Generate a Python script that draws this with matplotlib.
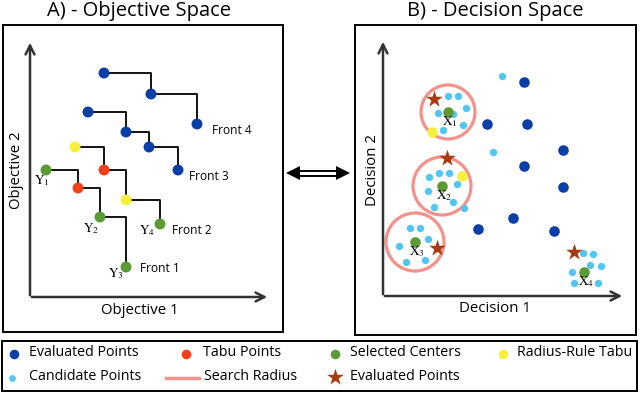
import matplotlib.pyplot as plt
from matplotlib.patches import Circle, Rectangle

plt.rcParams['font.family'] = ['Open Sans', 'DejaVu Sans']
plt.rcParams['mathtext.fontset'] = 'stix'

# colours
DARK_BLUE = '#0b3fa8'
RED = '#f2401c'
GREEN = '#5c9a34'
YELLOW = '#f6f03c'
LIGHT_BLUE = '#52c6f2'
SALMON = '#f4918a'
BROWN = '#a83c10'

# ---- A) objective space: fronts (pixel-space coordinates of the diagram)
front1_x = [46, 78, 100, 126]
front1_y = [170, 188, 217, 267]
front1_c = [GREEN, RED, GREEN, GREEN]
front2_x = [75, 104, 126, 160]
front2_y = [147, 170, 200, 224]
front2_c = [YELLOW, RED, YELLOW, GREEN]
front3_x = [88, 126, 149, 178]
front3_y = [112, 132, 147, 170]
front4_x = [104, 151, 197]
front4_y = [73, 94, 124]
front_labels = ['Front 1', 'Front 2', 'Front 3', 'Front 4']
front_label_x = [140, 172, 189, 212]
front_label_y = [269, 231, 176, 130]
y_labels = ['1', '2', '3', '4']
y_label_x = [42, 91, 116, 147]
y_label_y = [181, 229, 274, 231]

# ---- B) decision space
eval_x = [524, 487, 527, 563, 524, 563, 513, 478, 554]
eval_y = [82, 124, 124, 150, 166, 187, 218, 229, 231]
cand_x = [502, 493,
          448, 458, 466, 438, 453, 443, 463,
          429, 439, 449, 428, 457, 434, 453, 464,
          410, 420, 399, 428, 406, 425,
          583, 593, 590, 601, 572, 574, 598]
cand_y = [76, 152,
          96, 96, 108, 113, 114, 130, 125,
          177, 173, 173, 191, 184, 207, 202, 208,
          228, 228, 246, 239, 262, 260,
          253, 254, 265, 266, 272, 283, 283]
center_x = [448, 442, 415, 584]
center_y = [112, 186, 242, 272]
radius_centers = [0, 1, 2]
radius = [27, 29, 29]
star_x = [434, 447, 437, 574]
star_y = [99, 158, 248, 252]
tabu_r_x = [432, 462]
tabu_r_y = [132, 176]

# ---- legend
legend_row1 = ['Evaluated Points', 'Tabu Points', 'Selected Centers', 'Radius-Rule Tabu']
legend_row2 = ['Candidate Points', 'Search Radius', 'Evaluated Points']

fig = plt.figure(figsize=(6.4, 3.93), dpi=100)
ax = fig.add_axes([0, 0, 1, 1])
ax.set_xlim(0, 640)
ax.set_ylim(393, 0)
ax.axis('off')

# panel boxes
for (x0, y0, x1, y1) in [(3, 25, 283, 332), (355, 25, 636, 335), (2, 341, 637, 391)]:
    ax.add_patch(Rectangle((x0, y0), x1 - x0, y1 - y0, fill=False, ec='black', lw=1.4))

ax.text(139, 11, 'A) - Objective Space', ha='center', va='center', fontsize=14.5)
ax.text(495, 11, 'B) - Decision Space', ha='center', va='center', fontsize=14.5)

# axis arrows
arrow = dict(arrowstyle='->', lw=1.8, color='#333333', mutation_scale=16)
ax.annotate('', xy=(30, 40), xytext=(30, 298), arrowprops=arrow)
ax.annotate('', xy=(270, 297), xytext=(29, 297), arrowprops=arrow)
ax.annotate('', xy=(383, 39), xytext=(383, 297), arrowprops=arrow)
ax.annotate('', xy=(625, 296), xytext=(382, 296), arrowprops=arrow)
ax.text(140, 311, 'Objective 1', ha='center', va='center', fontsize=10.8)
ax.text(17, 170, 'Objective 2', ha='center', va='center', fontsize=10.8, rotation=90)
ax.text(495, 308, 'Decision 1', ha='center', va='center', fontsize=10.8)
ax.text(372, 170, 'Decision 2', ha='center', va='center', fontsize=10.8, rotation=90)

# fronts
fronts = [(front1_x, front1_y, front1_c), (front2_x, front2_y, front2_c),
          (front3_x, front3_y, [DARK_BLUE] * 4), (front4_x, front4_y, [DARK_BLUE] * 3)]
for fx, fy, fc in fronts:
    ax.plot(fx, fy, color='black', lw=1.3, drawstyle='steps-post', zorder=2)
    ax.scatter(fx, fy, s=62, c=fc, zorder=3, linewidths=0)
for lab, lx, ly in zip(front_labels, front_label_x, front_label_y):
    ax.text(lx, ly, lab, ha='left', va='center', fontsize=8.6)
for lab, lx, ly in zip(y_labels, y_label_x, y_label_y):
    ax.text(lx, ly, r'$\mathrm{Y}_{' + lab + '}$', ha='center', va='center', fontsize=9.5)

# between-panel arrow
ax.plot([298, 338], [171, 171], color='black', lw=1.4)
ax.plot([298, 338], [175.5, 175.5], color='black', lw=1.4)
ax.plot([293], [173], marker='<', ms=10, color='black', mew=0)
ax.plot([343], [173], marker='>', ms=10, color='black', mew=0)

# decision space
for i, r in zip(radius_centers, radius):
    ax.add_patch(Circle((center_x[i], center_y[i]), r, fill=False, ec=SALMON, lw=2.3, zorder=1))
ax.scatter(cand_x, cand_y, s=28, c=LIGHT_BLUE, marker='o', linewidths=0, zorder=2)
ax.scatter(eval_x, eval_y, s=58, c=DARK_BLUE, linewidths=0, zorder=2)
ax.scatter(tabu_r_x, tabu_r_y, s=58, c=YELLOW, linewidths=0, zorder=3)
ax.scatter(center_x, center_y, s=58, c=GREEN, linewidths=0, zorder=3)
ax.scatter(star_x, star_y, s=160, c=BROWN, marker='*', linewidths=0, zorder=4)
for k, (cx, cy) in enumerate(zip(center_x, center_y)):
    ax.text(cx + 2, cy + 10, r'$\mathrm{X}_{' + str(k + 1) + '}$', ha='center', va='center', fontsize=9.5, zorder=5)

# legend
row1_y, row2_y = 353, 377
row1_mx = [14, 186, 335, 503]
row1_tx = [29, 203, 350, 517]
row1_c = [DARK_BLUE, RED, GREEN, YELLOW]
for lab, mx, tx, c in zip(legend_row1, row1_mx, row1_tx, row1_c):
    ax.scatter([mx], [row1_y + 1], s=48, c=c, linewidths=0)
    ax.text(tx, row1_y, lab, ha='left', va='center', fontsize=10.3)
ax.scatter([12], [row2_y + 1], s=24, c=LIGHT_BLUE, linewidths=0)
ax.text(29, row2_y, legend_row2[0], ha='left', va='center', fontsize=10.3)
ax.plot([166, 199], [row2_y + 1, row2_y + 1], color=SALMON, lw=2.5)
ax.text(204, row2_y, legend_row2[1], ha='left', va='center', fontsize=10.3)
ax.scatter([335], [row2_y], s=160, c=BROWN, marker='*', linewidths=0)
ax.text(350, row2_y, legend_row2[2], ha='left', va='center', fontsize=10.3)

fig.savefig('out.png', dpi=100)
